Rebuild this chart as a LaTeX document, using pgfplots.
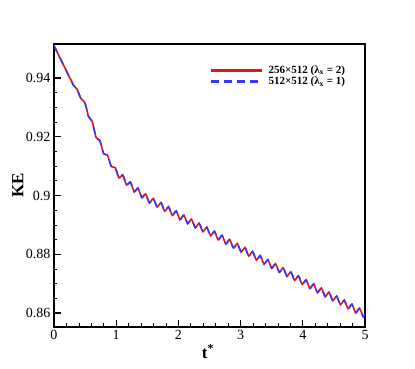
\documentclass[border=0pt]{standalone}
\usepackage{fontspec}
\setmainfont{Liberation Serif}
\usepackage{pgfplots}
\pgfplotsset{compat=1.18}
\usepackage{pgfplotstable}

\definecolor{kered}{RGB}{228,20,20}
\definecolor{keblue}{RGB}{55,55,250}

% kinetic energy history (both runs coincide)
\pgfplotstableread{
t      ke
0.0000 0.95100
0.0307 0.94967
0.0614 0.94835
0.0921 0.94702
0.1228 0.94570
0.1535 0.94437
0.1842 0.94304
0.2149 0.94172
0.2456 0.94039
0.2763 0.93923
0.3070 0.93770
0.3377 0.93697
0.3684 0.93624
0.3991 0.93471
0.4298 0.93308
0.4605 0.93245
0.4912 0.93182
0.5219 0.92972
0.5526 0.92701
0.5833 0.92611
0.6140 0.92521
0.6447 0.92251
0.6754 0.91981
0.7061 0.91918
0.7368 0.91873
0.7675 0.91648
0.7982 0.91423
0.8289 0.91393
0.8596 0.91377
0.8903 0.91180
0.9210 0.90984
0.9517 0.90967
0.9824 0.90951
1.0131 0.90774
1.0438 0.90602
1.0745 0.90651
1.1052 0.90700
1.1359 0.90528
1.1666 0.90357
1.1973 0.90405
1.2280 0.90454
1.2587 0.90286
1.2894 0.90127
1.3201 0.90188
1.3508 0.90249
1.3815 0.90090
1.4122 0.89930
1.4429 0.89991
1.4736 0.90052
1.5043 0.89895
1.5350 0.89749
1.5657 0.89824
1.5964 0.89898
1.6271 0.89753
1.6578 0.89607
1.6885 0.89681
1.7192 0.89756
1.7499 0.89610
1.7806 0.89465
1.8113 0.89539
1.8420 0.89613
1.8727 0.89468
1.9034 0.89322
1.9341 0.89396
1.9648 0.89471
1.9955 0.89325
2.0262 0.89181
2.0569 0.89256
2.0876 0.89332
2.1183 0.89187
2.1490 0.89043
2.1797 0.89118
2.2104 0.89194
2.2411 0.89049
2.2718 0.88905
2.3025 0.88980
2.3332 0.89056
2.3639 0.88911
2.3946 0.88767
2.4253 0.88842
2.4560 0.88918
2.4867 0.88773
2.5174 0.88629
2.5481 0.88704
2.5788 0.88780
2.6095 0.88635
2.6402 0.88491
2.6709 0.88566
2.7016 0.88642
2.7323 0.88497
2.7630 0.88353
2.7937 0.88428
2.8244 0.88504
2.8551 0.88359
2.8858 0.88215
2.9165 0.88290
2.9472 0.88366
2.9779 0.88221
3.0086 0.88077
3.0393 0.88152
3.0700 0.88228
3.1007 0.88083
3.1314 0.87939
3.1621 0.88014
3.1928 0.88090
3.2235 0.87945
3.2542 0.87801
3.2849 0.87876
3.3156 0.87952
3.3463 0.87807
3.3770 0.87663
3.4077 0.87738
3.4384 0.87814
3.4691 0.87669
3.4998 0.87525
3.5305 0.87600
3.5612 0.87676
3.5919 0.87531
3.6226 0.87387
3.6533 0.87462
3.6840 0.87538
3.7147 0.87394
3.7454 0.87249
3.7761 0.87325
3.8068 0.87400
3.8375 0.87256
3.8682 0.87111
3.8989 0.87187
3.9296 0.87262
3.9603 0.87118
3.9910 0.86974
4.0217 0.87049
4.0524 0.87125
4.0831 0.86980
4.1138 0.86836
4.1445 0.86911
4.1752 0.86987
4.2059 0.86842
4.2366 0.86698
4.2673 0.86773
4.2980 0.86849
4.3287 0.86704
4.3594 0.86560
4.3901 0.86635
4.4208 0.86711
4.4515 0.86566
4.4822 0.86422
4.5129 0.86497
4.5436 0.86573
4.5743 0.86428
4.6050 0.86284
4.6357 0.86359
4.6664 0.86435
4.6971 0.86290
4.7278 0.86146
4.7585 0.86221
4.7892 0.86297
4.8199 0.86152
4.8506 0.86008
4.8813 0.86083
4.9120 0.86159
4.9427 0.86014
4.9734 0.85870
5.0000 0.85945
}\kedata

\begin{document}
\begin{tikzpicture}
\useasboundingbox (-54pt,-42pt) rectangle (361pt,327pt);
\begin{axis}[
  at={(0pt,0pt)}, anchor=south west,
  scale only axis,
  width=311pt, height=283pt,
  xmin=0, xmax=5,
  ymin=0.85523, ymax=0.95157,
  xtick={0,1,2,3,4,5},
  ytick={0.86,0.88,0.9,0.92,0.94},
  minor x tick num=4,
  minor y tick num=3,
  tick pos=left,
  tick align=inside,
  major tick length=7pt,
  minor tick length=3.5pt,
  every major tick/.style={line width=1.1pt, black},
  every minor tick/.style={line width=0.7pt, black},
  axis line style={line width=1.5pt},
  tick label style={font=\fontsize{14}{16}\selectfont},
  /pgf/number format/assume math mode=true,
  xlabel={t\textsuperscript{*}},
  ylabel={KE},
  xlabel style={font=\fontsize{17}{19}\selectfont\bfseries,
                at={(axis description cs:0.495,-0.088)}, anchor=center},
  ylabel style={font=\fontsize{17}{19}\selectfont\bfseries,
                at={(axis description cs:-0.116,0.5)}, anchor=center},
  legend style={draw=none, fill=none,
                at={(axis description cs:0.505,0.928)}, anchor=north west,
                font=\fontsize{11}{12}\selectfont\bfseries,
                inner sep=0pt, row sep=0pt, column sep=6pt,
                nodes={inner sep=1pt}},
  legend cell align=left,
]
% legend samples as filled strips (solid red, dashed blue)
\addlegendimage{legend image code/.code={%
  \fill[kered] (0pt,-0.8pt) rectangle (50pt,0.8pt);}}
\addlegendentry{256×512 (λ\textsubscript{x} = 2)}
\addlegendimage{legend image code/.code={%
  \fill[keblue] (0pt,-0.8pt) rectangle (7pt,0.8pt)
                (13pt,-0.8pt) rectangle (20pt,0.8pt)
                (26pt,-0.8pt) rectangle (33pt,0.8pt)
                (39pt,-0.8pt) rectangle (46pt,0.8pt);}}
\addlegendentry{512×512 (λ\textsubscript{x} = 1)}
\addplot[color=kered, line width=1.6pt, smooth, forget plot] table[x=t, y=ke] {\kedata};
\addplot[color=keblue, line width=1.6pt, dash pattern=on 7pt off 6pt, smooth, forget plot] table[x=t, y=ke] {\kedata};
\end{axis}
\end{tikzpicture}
\end{document}
